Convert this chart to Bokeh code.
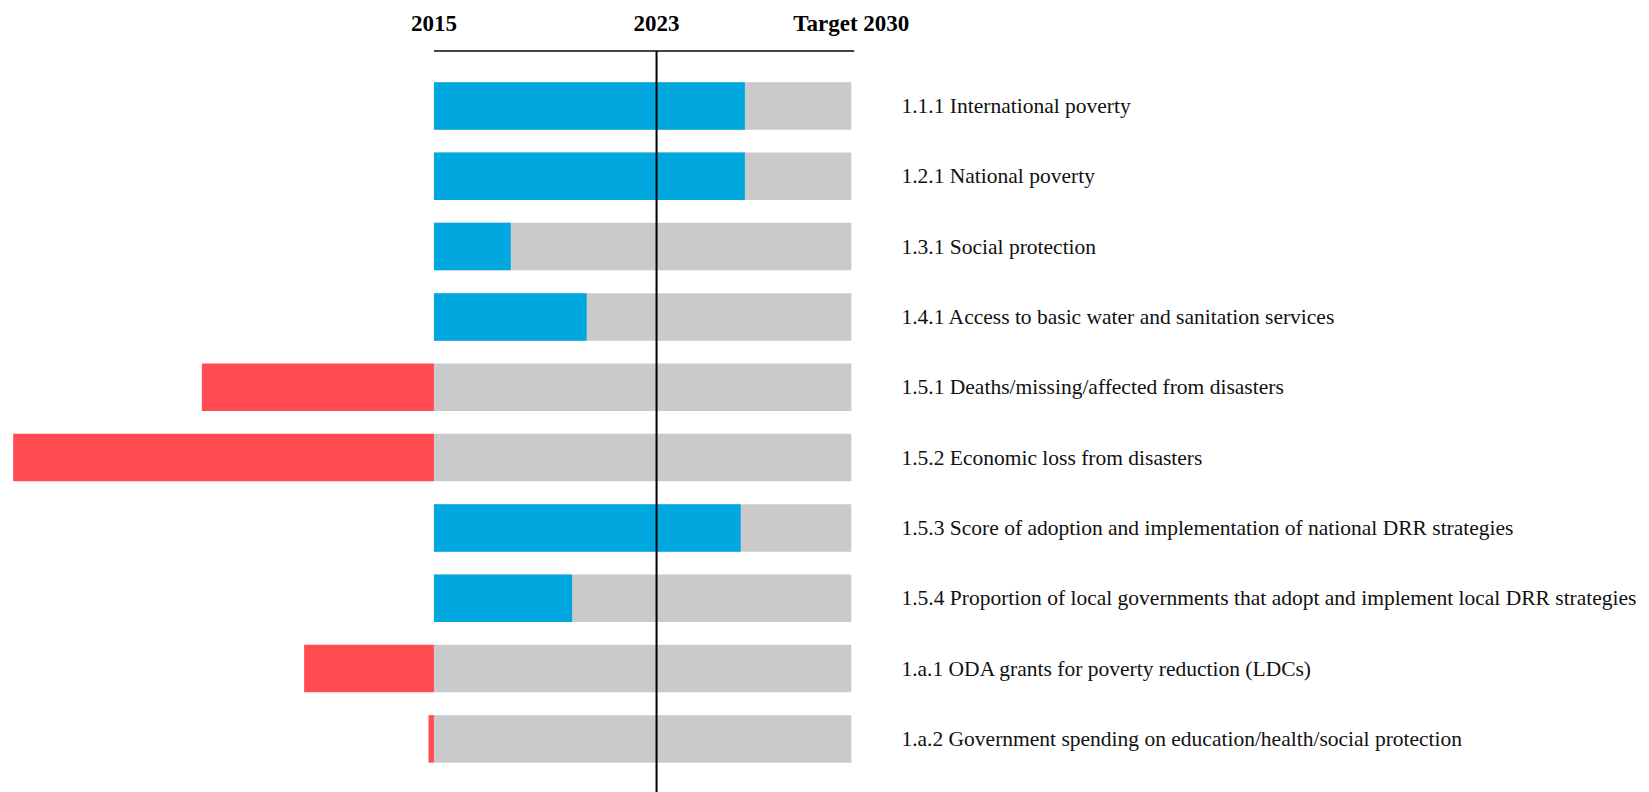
from bokeh.plotting import figure
from bokeh.models import Range1d
from bokeh.core.properties import value
from bokeh.embed import file_html
from bokeh.resources import INLINE

# ---- data ----
indicators = [
    "1.1.1 International poverty",
    "1.2.1 National poverty",
    "1.3.1 Social protection",
    "1.4.1 Access to basic water and sanitation services",
    "1.5.1 Deaths/missing/affected from disasters",
    "1.5.2 Economic loss from disasters",
    "1.5.3 Score of adoption and implementation of national DRR strategies",
    "1.5.4 Proportion of local governments that adopt and implement local DRR strategies",
    "1.a.1 ODA grants for poverty reduction (LDCs)",
    "1.a.2 Government spending on education/health/social protection",
]
# progress from 2015 baseline (0) towards 2030 target (1); negative = regress
progress = [0.745, 0.745, 0.184, 0.366, -0.556, -1.008, 0.735, 0.331, -0.311, -0.013]
header_labels = ["2015", "2023", "Target 2030"]
header_pos = [0.0, 8 / 15, 1.0]

BLUE = "#00a8df"
RED = "#ff4b51"
GREY = "#cacaca"

W, H = 1649, 792
p = figure(width=W, height=H, output_backend="svg", toolbar_location=None,
           x_range=Range1d(-1.0384, 2.9122), y_range=Range1d(9.762, -1.499),
           min_border=0, min_border_left=0, min_border_right=0,
           min_border_top=0, min_border_bottom=0)
p.axis.visible = False
p.grid.visible = False
p.outline_line_color = None
p.background_fill_color = "white"
p.border_fill_color = "white"

ys = list(range(len(indicators)))
bh = 0.675

# grey background bars (baseline -> target)
p.hbar(y=ys, left=[0] * len(ys), right=[1] * len(ys), height=bh,
       fill_color=GREY, line_color=None)

pos_y = [y for y, v in zip(ys, progress) if v >= 0]
pos_v = [v for v in progress if v >= 0]
neg_y = [y for y, v in zip(ys, progress) if v < 0]
neg_v = [v for v in progress if v < 0]
p.hbar(y=pos_y, left=0, right=pos_v, height=bh, fill_color=BLUE, line_color=None)
p.hbar(y=neg_y, left=neg_v, right=0, height=bh, fill_color=RED, line_color=None)

# top rule
p.segment(x0=[0], y0=[-0.782], x1=[1.007], y1=[-0.782], line_color="#444444", line_width=2)
# 2023 vertical line
p.segment(x0=[header_pos[1]], y0=[-0.782], x1=[header_pos[1]], y1=[10.5],
          line_color="black", line_width=2)

# header labels
p.text(x=header_pos, y=[-1.167] * 3, text=header_labels,
       text_font=value("Liberation Serif"), text_font_style="bold",
       text_font_size="23px", text_align="center", text_baseline="alphabetic",
       text_color="black")

# row labels
p.text(x=[1.12] * len(ys), y=ys, text=indicators,
       text_font=value("Liberation Serif"), text_font_size="21.5px",
       text_align="left", text_baseline="middle", text_color="#111111")

open("out.html", "w").write(file_html(p, INLINE))
